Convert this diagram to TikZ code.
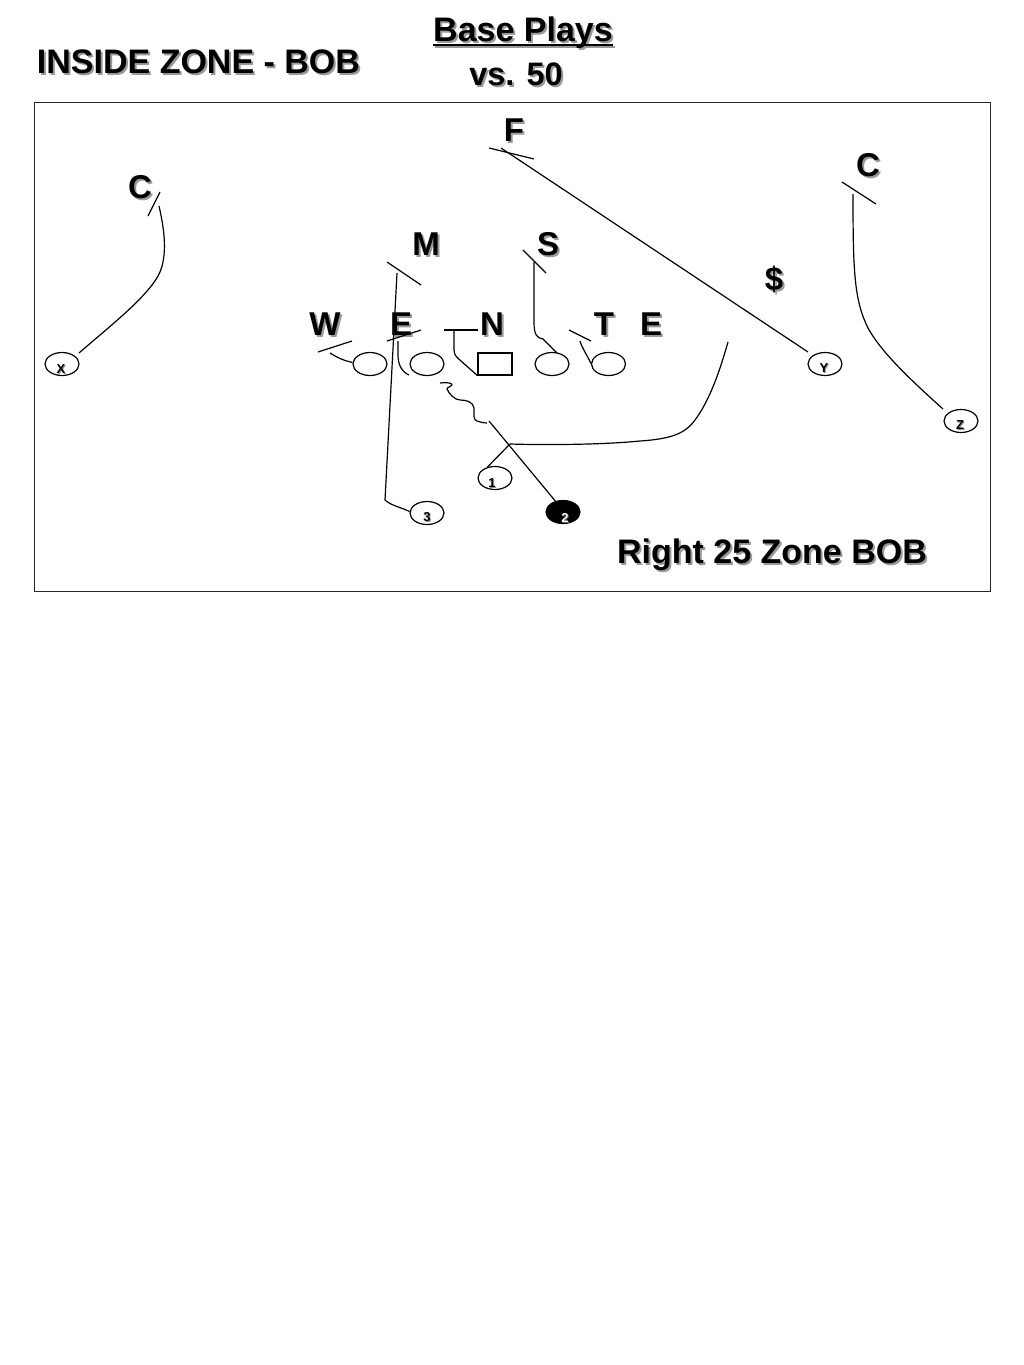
\documentclass[tikz,border=0pt]{standalone}
\usepackage{fontspec}
\setmainfont{Liberation Sans}
\usetikzlibrary{shapes.geometric}
\newcommand{\shd}[1]{\makebox[0pt][l]{\raisebox{-2pt}{\hspace{2pt}\textcolor{black!40}{#1}}}#1}
\newcommand{\shs}[1]{\makebox[0pt][l]{\raisebox{-1pt}{\hspace{1pt}\textcolor{black!45}{#1}}}#1}
\newcommand{\ulbar}[1]{\vtop{\hbox{#1}\kern-4.5pt\hrule height 2.4pt}}
\tikzset{
  x=1pt,y=-1pt,
  route/.style={draw=black,line width=1.2pt,line join=round},
  bar/.style={draw=black,line width=1.2pt},
  player/.style={shape=ellipse,draw=black,line width=1.2pt,minimum width=34pt,minimum height=23pt,inner sep=0pt,fill=white},
  center/.style={shape=rectangle,draw=black,line width=1.2pt,minimum width=34pt,minimum height=22pt,inner sep=0pt,fill=white},
  big/.style={inner sep=0pt,font=\fontsize{34}{34}\selectfont\bfseries},
  defn/.style={inner sep=0pt,font=\fontsize{33}{33}\selectfont\bfseries},
  small/.style={inner sep=0pt,font=\fontsize{13}{13}\selectfont\bfseries},
}
\begin{document}
\begin{tikzpicture}
\useasboundingbox (0,0) rectangle (1024,1365);
\fill[white] (0,0) rectangle (1024,1365);
\node[draw=black!85,line width=1.2pt,minimum width=955.5pt,minimum height=489pt,inner sep=0pt,anchor=north west] (frame) at (34,102) {};
% titles
\node[big] (title) at (523,32.5) {\shd{\ulbar{Base Plays}}};
\node[big,font=\fontsize{32.5}{33}\selectfont\bfseries] (vs) at (516,75) {\shd{vs. 50}};
\node[big] (inside) at (198.5,63) {\shd{INSIDE ZONE - BOB}};
\node[big] (play) at (772,556) {\shd{Right 25 Zone BOB}};
% players
\node[player] (X) at (62,364) {};
\node[player] (LT) at (370,364) {};
\node[player] (LG) at (427,364) {};
\node[center] (Cn) at (495,364) {};
\node[player] (RG) at (552,364) {};
\node[player] (RT) at (608.5,364) {};
\node[player] (Y) at (825,364) {};
\node[player] (Z) at (961,421) {};
\node[player] (B1) at (495,478) {};
\node[player] (B3) at (427,513) {};
\node[player,fill=black] (B2) at (563,512) {};
\node[small] (lX) at (61,370) {\shs{X}};
\node[small] (lY) at (824,369) {\shs{Y}};
\node[small] (lZ) at (960,426) {\shs{Z}};
\node[small] (l1) at (492,484) {\shs{1}};
\node[small] (l3) at (427,518) {\shs{3}};
\node[small,text=white] (l2) at (565,518) {\makebox[0pt][l]{\raisebox{-1pt}{\hspace{1pt}\textcolor{black!60}{2}}}2};
% defenders
\node[defn] (dF) at (514,131) {\shd{F}};
\node[defn] (dCr) at (868,166) {\shd{C}};
\node[defn] (dCl) at (140,188) {\shd{C}};
\node[defn] (dM) at (426,245) {\shd{M}};
\node[defn] (dS) at (548,245) {\shd{S}};
\node[defn] (dD) at (774,280) {\shd{\$}};
\node[defn] (dW) at (325,325) {\shd{W}};
\node[defn] (dE) at (401,325) {\shd{E}};
\node[defn] (dN) at (492,325) {\shd{N}};
\node[defn] (dT) at (604,325) {\shd{T}};
\node[defn] (dEr) at (651,325) {\shd{E}};
% blocking bars
\coordinate (bFa) at (489,148); \coordinate (bFb) at (534,159);
\coordinate (bCra) at (842,182); \coordinate (bCrb) at (876,204);
\coordinate (bCla) at (148,216); \coordinate (bClb) at (160,192);
\coordinate (bMa) at (387,262); \coordinate (bMb) at (421,285);
\coordinate (bSa) at (523,250); \coordinate (bSb) at (546,273);
\coordinate (bWa) at (318,352); \coordinate (bWb) at (352,341);
\coordinate (bEa) at (387,341); \coordinate (bEb) at (421,330);
\coordinate (bNa) at (444,330); \coordinate (bNb) at (478,330);
\coordinate (bTa) at (569,330); \coordinate (bTb) at (591,341);
\foreach \s in {F,Cr,Cl,M,S,W,E,N,T}{\draw[bar] (b\s a) -- (b\s b);}
% route ends
\coordinate (eF) at (501,148);
\coordinate (eCr) at (853,194);
\coordinate (eCl) at (159,206);
\coordinate (eM) at (397,273);
\coordinate (eS) at (534,262);
\coordinate (eW) at (330,353);
\coordinate (eE) at (398,341);
\coordinate (eN) at (454,330);
\coordinate (eT) at (580,341);
\coordinate (hand) at (510,444);
\coordinate (mesh) at (489,421);
\coordinate (cut) at (728,342);
\coordinate (knee) at (385,500);
\coordinate (zagA) at (440,383);
\coordinate (zagB) at (487,423);
\coordinate (sY) at (808,352);
\coordinate (sZ) at (943,409);
\coordinate (sX) at (79,353);
\coordinate (sRG) at (557,353);
% routes
\draw[route] (sY) -- (eF);
\draw[route] (eCr) .. controls (853,270) and (854,300) .. (868,328) .. controls (880,350) and (905,375) .. (sZ);
\draw[route] (eCl) .. controls (165,232) and (167,255) .. (160,272) .. controls (150,295) and (110,326) .. (sX);
\draw[route] (eM) -- (knee) .. controls (392,506) and (400,507) .. (B3.175);
\draw[route] (eS) -- (534,322) .. controls (534,335) and (537,338) .. (543,339) -- (sRG);
\draw[route] (eW) .. controls (338,358) and (345,361) .. (LT.175);
\draw[route] (eE) -- (398,355) .. controls (398,365) and (402,372) .. (409,375);
\draw[route] (eN) -- (454,350) .. controls (454,356) and (458,358) .. (461,361) -- (Cn.south west);
\draw[route] (eT) .. controls (582,348) and (587,355) .. (RT.178);
\draw[route] (zagA) .. controls (446,382) and (453,383) .. (452,385) .. controls (451,387) and (447,387) .. (447,389) .. controls (449,394) and (455,400) .. (460,400) .. controls (467,400) and (473,402) .. (474,408) .. controls (474,414) and (473,420) .. (477,421) .. controls (480,422) and (484,423) .. (zagB);
\draw[route] (mesh) -- (B2.125);
\draw[route] (hand) -- (B1.125);
\draw[route] (hand) .. controls (540,445) and (600,445) .. (640,441) .. controls (670,439) and (685,434) .. (695,420) .. controls (710,400) and (720,370) .. (cut);
\end{tikzpicture}
\end{document}
